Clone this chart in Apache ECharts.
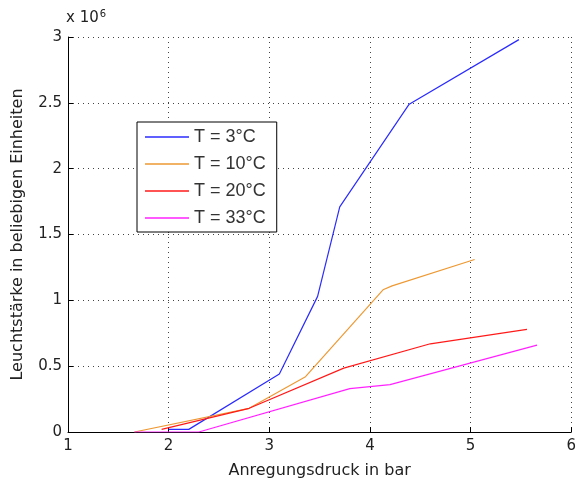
<!DOCTYPE html>
<html>
<head>
<meta charset="utf-8">
<script src="https://cdn.jsdelivr.net/npm/echarts@6/dist/echarts.min.js"></script>
<style>
html,body{margin:0;padding:0;background:#fff;}
#chart{width:579px;height:484px;}
</style>
</head>
<body>
<div id="chart"></div>
<script>
// Messwerte (Leuchtstärke in 10^6)
var names = ['T = 3°C', 'T = 10°C', 'T = 20°C', 'T = 33°C'];
var colors = ['#2b2bff', '#ee9933', '#ff1a1a', '#ff22ff'];

var x3 = [2.0, 2.2, 3.1, 3.48, 3.70, 4.39, 5.48];
var y3 = [0.02, 0.02, 0.44, 1.03, 1.71, 2.49, 2.98];

var x10 = [1.66, 2.8, 3.36, 4.13, 4.22, 5.04];
var y10 = [0.0, 0.18, 0.42, 1.08, 1.11, 1.31];

var x20 = [1.93, 2.8, 3.74, 4.6, 5.56];
var y20 = [0.02, 0.18, 0.485, 0.67, 0.78];

var x33 = [1.66, 2.3, 3.8, 4.2, 5.66];
var y33 = [0.0, 0.0, 0.33, 0.36, 0.66];

var xTicks = [1, 2, 3, 4, 5, 6];
var yTicks = [0, 0.5, 1, 1.5, 2, 2.5, 3];

function pairs(xs, ys) {
    return xs.map(function (x, i) { return [x, ys[i]]; });
}
var allData = [pairs(x3, y3), pairs(x10, y10), pairs(x20, y20), pairs(x33, y33)];

var chart = echarts.init(document.getElementById('chart'));
var font = 'Liberation Sans, Arial, sans-serif';
var wide = 'DejaVu Sans, sans-serif';

var option = {
    animation: false,
    backgroundColor: '#fff',
    textStyle: { fontFamily: font },
    grid: { left: 68, right: 2, top: 37, bottom: 47 },
    legend: {
        orient: 'vertical',
        left: 137,
        top: 122,
        data: names,
        icon: 'rect',
        backgroundColor: '#fff',
        borderColor: '#000',
        borderWidth: 1,
        borderRadius: 0,
        padding: [6, 11, 5, 8],
        itemWidth: 44,
        itemHeight: 1.5,
        itemGap: 9,
        textStyle: { fontSize: 18, color: '#333', fontFamily: font }
    },
    graphic: [{
        type: 'text',
        left: 66,
        top: 9,
        style: {
            text: '{a|x 10}{b|6}',
            rich: {
                a: { fontSize: 15, fontFamily: wide, fill: '#222' },
                b: { fontSize: 10, fontFamily: wide, fill: '#222', verticalAlign: 'top', padding: [0, 0, 8, 1] }
            }
        }
    }],
    xAxis: {
        type: 'value',
        min: xTicks[0],
        max: xTicks[xTicks.length - 1],
        interval: 1,
        name: 'Anregungsdruck in bar',
        nameLocation: 'middle',
        nameGap: 31,
        nameTextStyle: { fontSize: 16, color: '#222', fontFamily: wide },
        axisLine: { lineStyle: { color: '#000', width: 1 } },
        axisTick: { inside: true, length: 5, lineStyle: { color: '#000' } },
        axisLabel: { fontSize: 15, color: '#222', margin: 7, fontFamily: wide },
        splitLine: { show: true, lineStyle: { color: '#444', type: [1, 4], width: 1 } }
    },
    yAxis: {
        type: 'value',
        min: yTicks[0],
        max: yTicks[yTicks.length - 1],
        interval: 0.5,
        name: 'Leuchtstärke in beliebigen Einheiten',
        nameLocation: 'middle',
        nameGap: 42,
        nameRotate: 90,
        nameTextStyle: { fontSize: 16, color: '#222', fontFamily: wide },
        axisLine: { show: true, lineStyle: { color: '#000', width: 1 } },
        axisTick: { show: true, inside: true, length: 5, lineStyle: { color: '#000' } },
        axisLabel: { fontSize: 15, color: '#222', margin: 6, fontFamily: wide },
        splitLine: { show: true, lineStyle: { color: '#444', type: [1, 4], width: 1 } }
    },
    series: names.map(function (n, i) {
        return {
            name: n,
            type: 'line',
            data: allData[i],
            showSymbol: false,
            symbol: 'none',
            color: colors[i],
            lineStyle: { width: 1.2, color: colors[i] }
        };
    })
};

chart.setOption(option);
</script>
</body>
</html>
